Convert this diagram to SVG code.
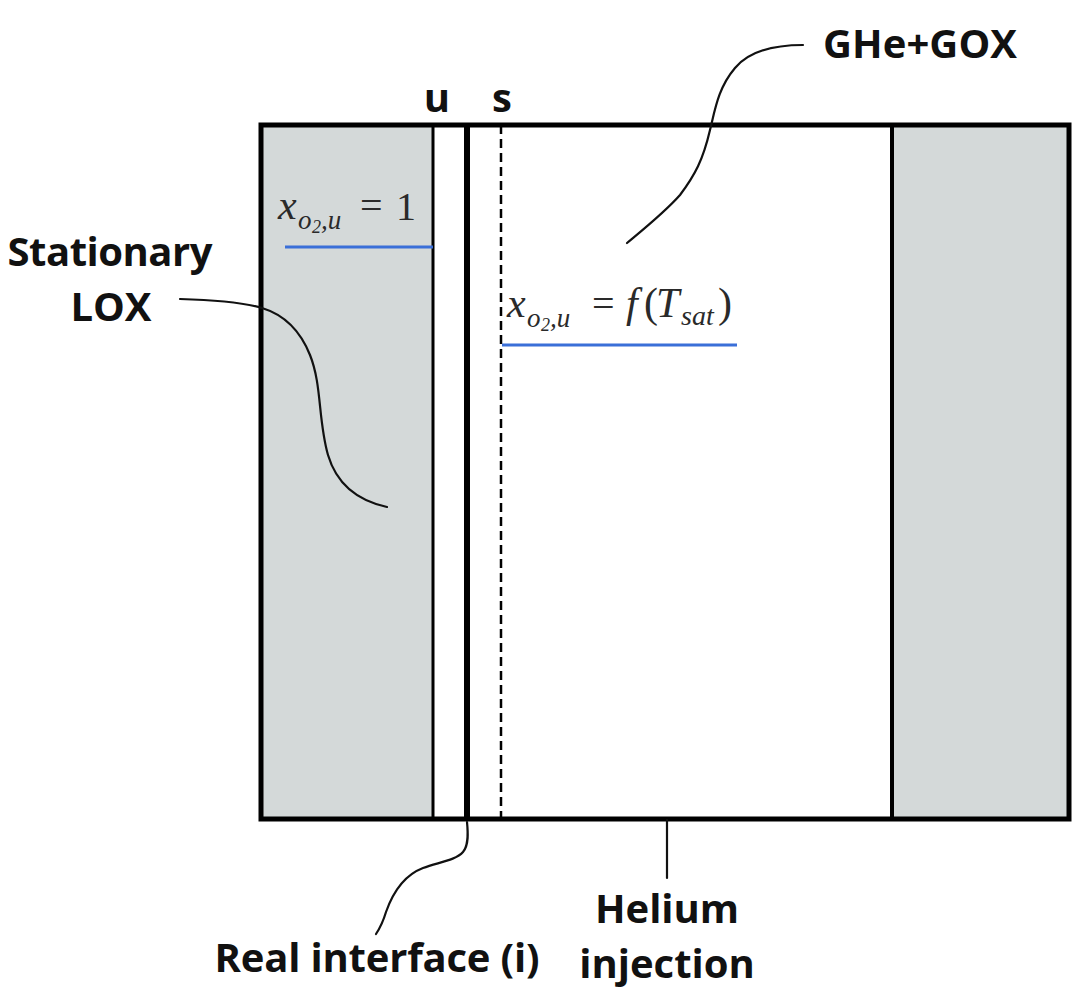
<svg xmlns="http://www.w3.org/2000/svg" width="1080" height="999" viewBox="0 0 1080 999">
<style>
.lbl{font-family:"Open Sans","Liberation Sans",sans-serif;font-weight:700;font-size:40px;fill:#111}
.math{font-family:"Liberation Serif","DejaVu Serif",serif;font-style:italic;fill:#2a2a2a}
.mr{font-style:normal}
.lead{fill:none;stroke:#111;stroke-width:2.2;stroke-linecap:round}
.wall{stroke:#000;fill:none}
.ul{stroke:#3a6fd8;stroke-width:3}
</style>
<rect width="1080" height="999" fill="#fff"/>
<g id="vessel">
<rect x="261" y="125" width="172" height="694" fill="#d4d9d9"/>
<rect x="892" y="125" width="177" height="694" fill="#d4d9d9"/>
<line class="wall" x1="433" y1="125" x2="433" y2="819" stroke-width="3"/>
<line class="wall" x1="467" y1="125" x2="467" y2="819" stroke-width="6"/>
<line class="wall" x1="501" y1="125" x2="501" y2="819" stroke-width="2.5" stroke-dasharray="9 5"/>
<line class="wall" x1="892" y1="125" x2="892" y2="819" stroke-width="4"/>
<rect class="wall" x="261" y="125" width="808" height="694" stroke-width="5"/>
</g>
<g id="label-u"><text class="lbl" x="437" y="112" text-anchor="middle">u</text></g>
<g id="label-s"><text class="lbl" x="502" y="112" text-anchor="middle">s</text></g>
<g id="label-ghegox"><text class="lbl" x="823" y="58" textLength="194">GHe+GOX</text></g>
<g id="label-lox">
<text class="lbl" x="110" y="266" text-anchor="middle" textLength="205">Stationary</text>
<text class="lbl" x="111" y="321" text-anchor="middle">LOX</text>
</g>
<g id="label-interface"><text class="lbl" x="377" y="972" text-anchor="middle" textLength="325">Real interface (i)</text></g>
<g id="label-helium">
<text class="lbl" x="667" y="923" text-anchor="middle">Helium</text>
<text class="lbl" x="667" y="978" text-anchor="middle">injection</text>
</g>
<g id="eq-u">
<text class="math" font-size="42"><tspan x="278" y="219">x</tspan><tspan font-size="27" x="298" y="229">o</tspan><tspan font-size="18" x="312" y="233">2</tspan><tspan font-size="27" x="321" y="229">,u</tspan><tspan class="mr" font-size="40" x="360" y="219">=</tspan><tspan class="mr" font-size="40" x="396" y="220">1</tspan></text>
<line class="ul" x1="285" y1="247" x2="433" y2="247"/>
</g>
<g id="eq-s">
<text class="math" font-size="42"><tspan x="507" y="317">x</tspan><tspan font-size="27" x="527" y="327">o</tspan><tspan font-size="18" x="541" y="331">2</tspan><tspan font-size="27" x="550" y="327">,u</tspan><tspan class="mr" font-size="40" x="592" y="317">=</tspan><tspan x="626" y="317">f</tspan><tspan class="mr" x="644" y="317">(</tspan><tspan x="656" y="317">T</tspan><tspan font-size="28" x="681" y="325">sat</tspan><tspan class="mr" x="718" y="317">)</tspan></text>
<line class="ul" x1="502" y1="345" x2="737" y2="345"/>
</g>
<g id="connectors">
<path class="lead" d="M180,299 C215,300 245,303 262,308 C285,315 300,330 310,355 C322,385 318,420 328,455 C336,482 355,500 387,507"/>
<path class="lead" d="M803,45 C775,45 750,50 735,68 C718,88 715,110 710,130 C703,160 695,175 680,195 C665,212 645,228 627,243"/>
<path class="lead" d="M467,822 C468,832 469,845 463,852 C456,860 440,862 423,868 C402,876 392,895 386,912 C383,922 380,928 376,934" stroke="#2c3f8f" stroke-width="2.5"/>
<line class="lead" x1="667" y1="820" x2="667" y2="878"/>
</g>
</svg>
